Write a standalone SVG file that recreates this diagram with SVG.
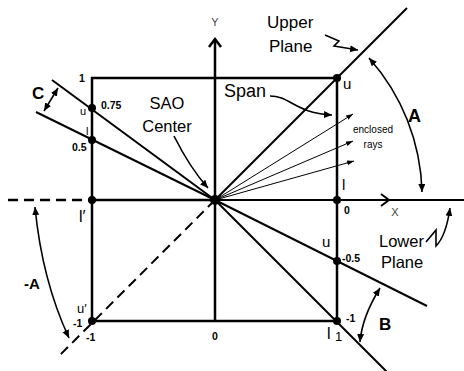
<svg xmlns="http://www.w3.org/2000/svg" width="464" height="371" viewBox="0 0 464 371">
<defs>
<style>
.ln{stroke:#000;fill:none;stroke-width:2}
.th{stroke-width:2.5}
.ds{stroke-dasharray:10 6}
.ray{stroke:#000;stroke-width:1;fill:none}
.ar{stroke:#000;stroke-width:1.6;fill:none}
.dot{fill:#000}
text{font-family:"Liberation Sans",Arial,sans-serif;fill:#000}
.b{font-weight:bold}
.n{font-size:10.5px;font-weight:bold}
.ax{font-size:11px;fill:#444}
</style>
<marker id="ah" markerUnits="userSpaceOnUse" markerWidth="9" markerHeight="8" refX="8" refY="3.5" orient="auto-start-reverse">
<path d="M0,0 L8,3.5 L0,7 z" fill="#000"/>
</marker>
<marker id="ahs" markerUnits="userSpaceOnUse" markerWidth="8" markerHeight="6" refX="7" refY="2.5" orient="auto">
<path d="M0,0 L7,2.5 L0,5 z" fill="#000"/>
</marker>
</defs>
<rect width="464" height="371" fill="#fff"/>

<g id="connectors">
<rect x="92" y="78" width="245" height="243" class="ln th"/>
<line x1="337" y1="78" x2="337" y2="200" class="ln" stroke-width="4.5"/>
<line x1="8" y1="200" x2="92" y2="200" class="ln th ds"/>
<line x1="92" y1="200" x2="215" y2="200" class="ln th"/>
<line x1="215" y1="200" x2="337" y2="200" class="ln" stroke-width="3.5"/>
<line x1="337" y1="200" x2="464" y2="200" class="ln"/>
<polyline points="381,194 389,200 381,206" class="ln"/>
<line x1="215" y1="321" x2="215" y2="39" class="ln th"/>
<polyline points="209,47 215,39 221,47" class="ln th"/>
<line x1="215" y1="200" x2="407" y2="8" class="ln"/>
<line x1="215" y1="200" x2="427" y2="306" class="ln"/>
<line x1="215" y1="200" x2="390" y2="375" class="ln"/>
<line x1="52" y1="80" x2="215" y2="200" class="ln"/>
<line x1="36" y1="112" x2="215" y2="200" class="ln"/>
<line x1="215" y1="200" x2="58" y2="357" class="ln ds"/>
<line x1="215" y1="200" x2="353" y2="114" class="ray" marker-end="url(#ahs)"/>
<line x1="215" y1="200" x2="353" y2="141" class="ray" marker-end="url(#ahs)"/>
<line x1="215" y1="200" x2="354" y2="161" class="ray" marker-end="url(#ahs)"/>
<path d="M369 58 A209 209 0 0 1 422 192" class="ar" marker-start="url(#ah)" marker-end="url(#ah)"/>
<path d="M35 207 Q42 280 69 338" class="ar" marker-start="url(#ah)" marker-end="url(#ah)"/>
<path d="M380 288 Q362 317 360 342" class="ar" marker-start="url(#ah)" marker-end="url(#ah)"/>
<path d="M58 88 L44 111" class="ar" marker-start="url(#ah)" marker-end="url(#ah)"/>
<path d="M174 136 Q190 168 208 188" class="ar" marker-end="url(#ah)"/>
<path d="M270 96 C290 96 295 113 332 115" class="ar" marker-end="url(#ah)"/>
<path d="M325 35 L339 41 L334 46 L358 50" class="ar" marker-end="url(#ah)"/>
<path d="M426 242 L436 230 L436 246 Q446 236 450 208" class="ar" stroke-width="2" marker-end="url(#ah)"/>
</g>

<g id="points">
<circle cx="215" cy="200" r="5" class="dot"/>
<circle cx="337" cy="78" r="4" class="dot"/>
<circle cx="92" cy="108" r="4" class="dot"/>
<circle cx="92" cy="140" r="4" class="dot"/>
<circle cx="92" cy="200" r="4" class="dot"/>
<circle cx="337" cy="200" r="4" class="dot"/>
<circle cx="337" cy="261" r="4" class="dot"/>
<circle cx="337" cy="321" r="4" class="dot"/>
<circle cx="92" cy="321" r="4" class="dot"/>
</g>

<g id="labels">
<text x="215" y="26" class="ax" text-anchor="middle">Y</text>
<text x="395" y="216" class="ax" text-anchor="middle">X</text>
<text x="267" y="28" font-size="17">Upper</text>
<text x="269" y="52" font-size="17">Plane</text>
<text x="224" y="97" font-size="18">Span</text>
<text x="167" y="109" font-size="16.5" text-anchor="middle">SAO</text>
<text x="167" y="132" font-size="16.5" text-anchor="middle">Center</text>
<text x="343" y="89" font-size="15">u</text>
<text x="373" y="133" font-size="10" text-anchor="middle">enclosed</text>
<text x="373" y="148" font-size="10" text-anchor="middle">rays</text>
<text x="408" y="122" font-size="18" class="b">A</text>
<text x="342" y="190" font-size="15">l</text>
<text x="344" y="214" class="n">0</text>
<text x="379" y="247" font-size="16.5">Lower</text>
<text x="381" y="268" font-size="16.5">Plane</text>
<text x="322" y="247" font-size="15">u</text>
<text x="342" y="262" class="n">-0.5</text>
<text x="346" y="322" class="n">-1</text>
<text x="379" y="330" font-size="17" class="b">B</text>
<text x="327" y="339" font-size="16">l</text>
<text x="335" y="341" font-size="13">1</text>
<text x="215" y="340" class="n" text-anchor="middle">0</text>
<text x="86" y="341" class="n">-1</text>
<text x="73" y="327" class="n">-1</text>
<text x="77" y="313" font-size="13">u′</text>
<text x="24" y="289" font-size="15" class="b">-A</text>
<text x="79" y="222" font-size="16">l′</text>
<text x="72" y="151" class="n">0.5</text>
<text x="86" y="135" font-size="11">l</text>
<text x="80" y="115" font-size="11">u</text>
<text x="101" y="109" class="n">0.75</text>
<text x="79" y="82" class="n">1</text>
<text x="32" y="99" font-size="17" class="b">C</text>
</g>
</svg>
